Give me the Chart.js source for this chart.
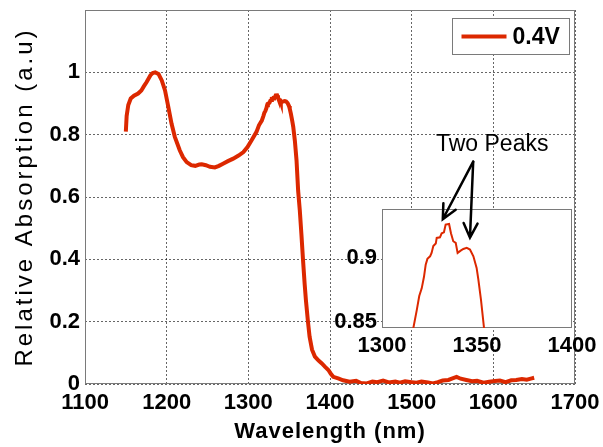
<!DOCTYPE html>
<html>
<head>
<meta charset="utf-8">
<script src="https://cdn.jsdelivr.net/npm/chart.js@4.4.1/dist/chart.umd.min.js"></script>
<style>
  body { margin: 0; background: #fff; }
  #wrap { position: relative; width: 603px; height: 447px; }
  #main { position: absolute; left: 0; top: 0; }
  #inset { position: absolute; left: 330px; top: 120px; }
</style>
</head>
<body>
<div id="wrap">
  <canvas id="main" width="603" height="447"></canvas>
  <canvas id="inset" width="273" height="250"></canvas>
</div>
<script>
var seriesLabel = '0.4V';
var wavelength = [
  1150, 1151, 1153, 1156, 1160, 1165, 1169, 1172, 1175.5, 1180, 1183, 1186, 1190, 1194, 1198,
  1202, 1206, 1210, 1216, 1220, 1224.5, 1230, 1235, 1240, 1243, 1248, 1253, 1259, 1264, 1269,
  1275, 1281.5, 1288, 1294, 1299, 1304, 1310, 1313,
  1316.5, 1318.3, 1319.6, 1320.9, 1322.1, 1323, 1323.9, 1325.3, 1326.1, 1327, 1328.3, 1328.8,
  1330.5, 1331.4, 1332.6, 1333.5, 1335.3, 1336.3, 1337.5, 1338.8, 1339.8, 1341.4, 1342.8,
  1344.6, 1346.3, 1348.1, 1349.8, 1350.7, 1352.1, 1353.7,
  1355, 1357, 1359, 1361, 1363, 1365, 1367, 1369, 1370.5, 1373, 1375, 1378, 1381.5, 1386,
  1390, 1394, 1398, 1401, 1404, 1410, 1416, 1424, 1432, 1438, 1445, 1452, 1458, 1465, 1472,
  1480, 1485.5, 1492, 1500, 1506, 1512, 1520, 1526, 1532, 1538, 1545, 1550, 1555, 1560, 1567,
  1574, 1580, 1588, 1595, 1602, 1608, 1615, 1622, 1628, 1635, 1641, 1647, 1650
];
var absorption = [
  0.81, 0.86, 0.895, 0.916, 0.925, 0.932, 0.942, 0.955, 0.969, 0.99, 0.998, 1.0, 0.995, 0.974, 0.942,
  0.889, 0.835, 0.793, 0.75, 0.728, 0.712, 0.702, 0.7, 0.704, 0.705, 0.702, 0.697, 0.695, 0.7, 0.707,
  0.715, 0.723, 0.733, 0.744, 0.76, 0.782, 0.809, 0.83,
  0.845, 0.859, 0.87, 0.876, 0.885, 0.8945, 0.899, 0.901, 0.9037, 0.909, 0.911, 0.9154,
  0.9159, 0.919, 0.9198, 0.9258, 0.9263, 0.919, 0.9128, 0.9115, 0.9037, 0.9055, 0.9068,
  0.9076, 0.9063, 0.901, 0.892, 0.883, 0.867, 0.845,
  0.825, 0.78, 0.718, 0.62, 0.558, 0.48, 0.397, 0.32, 0.269, 0.2, 0.152, 0.11, 0.088, 0.075,
  0.066, 0.055, 0.045, 0.033, 0.023, 0.018, 0.012, 0.007, 0.01, 0.003, 0.002, 0.008, 0.006, 0.011, 0.005,
  0.008, 0.004, 0.009, 0.006, 0.004, 0.008, 0.005, 0.002, 0.006, 0.011, 0.013, 0.018, 0.023, 0.017, 0.013,
  0.009, 0.01, 0.004, 0.007, 0.01, 0.011, 0.006, 0.012, 0.013, 0.016, 0.014, 0.018, 0.02
];
var mainXTicks = [1100, 1200, 1300, 1400, 1500, 1600, 1700];
var mainYTicks = [0, 0.2, 0.4, 0.6, 0.8, 1];
var insetXTicks = [1300, 1350, 1400];
var insetYTicks = [0.85, 0.9];

// "Two Peaks" note, in inset data units
var noteText = 'Two Peaks';
var notePos = { x: 1358, y: 0.988 };
var arrowFrom = { x: 1348, y: 0.975 };
var arrowTips = [{ x: 1332, y: 0.930 }, { x: 1346.3, y: 0.9156 }];

var FONT = "'Liberation Sans', Arial, sans-serif";
var RED = '#dc2800';
var FRAME = '#7a7a7a';
var GRID = 'rgba(0,0,0,0.6)';

// wider axis titles on the main chart (letter spacing)
var titleSpacing = { x: '1px', y: '3px' };
var baseDrawTitle = Chart.Scale.prototype.drawTitle;
Chart.Scale.prototype.drawTitle = function () {
  var sp = this.chart.canvas.id === 'main' ? titleSpacing[this.id] : null;
  if (sp) this.ctx.letterSpacing = sp;
  baseDrawTitle.call(this);
  this.ctx.letterSpacing = '0px';
};

var fmt = function (v) { return String(+Number(v).toFixed(2)); };
var points = wavelength.map(function (x, i) { return { x: x, y: absorption[i] }; });

// fixed axis sizes, no extra label padding around the plot
function fixSize(w, h) {
  return function (s) {
    if (w) s.width = w;
    if (h) s.height = h;
    s.paddingTop = 0; s.paddingBottom = 0; s.paddingLeft = 0; s.paddingRight = 0;
  };
}

var framePlugin = {
  id: 'frame',
  beforeDatasetsDraw: function (chart) {
    var a = chart.chartArea, ctx = chart.ctx;
    ctx.save();
    ctx.strokeStyle = FRAME;
    ctx.lineWidth = 1;
    ctx.strokeRect(Math.round(a.left) + 0.5, Math.round(a.top) + 0.5,
      Math.round(a.width) - 1, Math.round(a.height) - 1);
    ctx.restore();
  }
};

var legendBox = {
  id: 'legendBox',
  afterDraw: function (chart) {
    var a = chart.chartArea, ctx = chart.ctx;
    var ds = chart.data.datasets[0];
    var w = 117, h = 36;
    var left = Math.round(a.right - 6 - w) + 0.5, top = Math.round(a.top + 8) + 0.5;
    ctx.save();
    ctx.fillStyle = '#fff';
    ctx.fillRect(left, top, w, h);
    ctx.strokeStyle = FRAME;
    ctx.lineWidth = 1;
    ctx.strokeRect(left, top, w, h);
    ctx.strokeStyle = ds.borderColor;
    ctx.lineWidth = 4;
    ctx.beginPath();
    ctx.moveTo(left + 9, top + h / 2);
    ctx.lineTo(left + 54, top + h / 2);
    ctx.stroke();
    ctx.fillStyle = '#000';
    ctx.font = 'bold 23px ' + FONT;
    ctx.textBaseline = 'middle';
    ctx.fillText(ds.label, left + 60, top + h / 2 + 1);
    ctx.restore();
  }
};

var whiteArea = {
  id: 'whiteArea',
  beforeDraw: function (chart) {
    var a = chart.chartArea, ctx = chart.ctx;
    ctx.save();
    ctx.fillStyle = '#fff';
    ctx.fillRect(a.left, a.top, a.width, a.height);
    ctx.restore();
  }
};

function arrow(ctx, x0, y0, x1, y1) {
  var ang = Math.atan2(y1 - y0, x1 - x0), len = 16, sp = 0.45;
  ctx.beginPath();
  ctx.moveTo(x0, y0);
  ctx.lineTo(x1, y1);
  ctx.moveTo(x1 - len * Math.cos(ang - sp), y1 - len * Math.sin(ang - sp));
  ctx.lineTo(x1, y1);
  ctx.lineTo(x1 - len * Math.cos(ang + sp), y1 - len * Math.sin(ang + sp));
  ctx.stroke();
}

var peakNote = {
  id: 'peakNote',
  afterDraw: function (chart) {
    var sx = chart.scales.x, sy = chart.scales.y, ctx = chart.ctx;
    ctx.save();
    ctx.fillStyle = '#000';
    ctx.font = '23px ' + FONT;
    ctx.textAlign = 'center';
    ctx.textBaseline = 'middle';
    ctx.fillText(noteText, sx.getPixelForValue(notePos.x), sy.getPixelForValue(notePos.y));
    ctx.strokeStyle = '#000';
    ctx.lineWidth = 2.5;
    ctx.lineCap = 'round';
    var fx = sx.getPixelForValue(arrowFrom.x), fy = sy.getPixelForValue(arrowFrom.y);
    arrowTips.forEach(function (t) {
      arrow(ctx, fx, fy, sx.getPixelForValue(t.x), sy.getPixelForValue(t.y));
    });
    ctx.restore();
  }
};

var tickFont = { family: FONT, size: 22, weight: 'bold' };

new Chart(document.getElementById('main'), {
  type: 'line',
  data: {
    datasets: [{
      label: seriesLabel,
      data: points,
      borderColor: RED,
      borderWidth: 4,
      pointRadius: 0,
      tension: 0,
      fill: false
    }]
  },
  options: {
    responsive: false,
    animation: false,
    layout: { padding: { left: 0, top: 10, right: 28, bottom: 0 } },
    plugins: { legend: { display: false }, tooltip: { enabled: false } },
    scales: {
      x: {
        type: 'linear', min: 1100, max: 1700,
        afterBuildTicks: function (s) { s.ticks = mainXTicks.map(function (v) { return { value: v }; }); },
        afterFit: fixSize(0, 63),
        grid: { color: GRID, lineWidth: 1, drawTicks: false },
        border: { display: false, dash: [2, 2] },
        ticks: { callback: function (v) { return String(v); }, padding: 6, color: '#000', font: tickFont, maxRotation: 0 },
        title: { display: true, text: 'Wavelength (nm)', color: '#000',
          font: { family: FONT, size: 22, weight: 'bold' }, padding: { top: 0, bottom: 2 } }
      },
      y: {
        min: 0, max: 1.2,
        afterBuildTicks: function (s) { s.ticks = mainYTicks.map(function (v) { return { value: v }; }); },
        afterFit: fixSize(85, 0),
        grid: { color: GRID, lineWidth: 1, drawTicks: false },
        border: { display: false, dash: [2, 2] },
        ticks: { callback: fmt, padding: 5, color: '#000', font: tickFont },
        title: { display: true, text: 'Relative Absorption (a.u)', color: '#000',
          font: { family: FONT, size: 24 }, padding: { top: 11, bottom: 0 } }
      }
    }
  },
  plugins: [framePlugin, legendBox]
});

// zoomed inset on the double peak
new Chart(document.getElementById('inset'), {
  type: 'line',
  data: {
    datasets: [{
      label: seriesLabel,
      data: points,
      borderColor: RED,
      borderWidth: 2,
      pointRadius: 0,
      tension: 0,
      fill: false,
      clip: 0
    }]
  },
  options: {
    responsive: false,
    animation: false,
    layout: { padding: { left: 0, top: 89, right: 31, bottom: 0 } },
    plugins: { legend: { display: false }, tooltip: { enabled: false } },
    scales: {
      x: {
        type: 'linear', min: 1300, max: 1400,
        afterBuildTicks: function (s) { s.ticks = insetXTicks.map(function (v) { return { value: v }; }); },
        afterFit: fixSize(0, 42),
        grid: { display: false, drawTicks: false },
        border: { display: false },
        ticks: { callback: function (v) { return String(v); }, padding: 5, color: '#000', font: tickFont, maxRotation: 0 }
      },
      y: {
        min: 0.845, max: 0.938,
        afterBuildTicks: function (s) { s.ticks = insetYTicks.map(function (v) { return { value: v }; }); },
        afterFit: fixSize(52, 0),
        grid: { display: false, drawTicks: false },
        border: { display: false },
        ticks: { callback: fmt, padding: 5, color: '#000', font: tickFont }
      }
    }
  },
  plugins: [whiteArea, framePlugin, peakNote]
});
</script>
</body>
</html>
